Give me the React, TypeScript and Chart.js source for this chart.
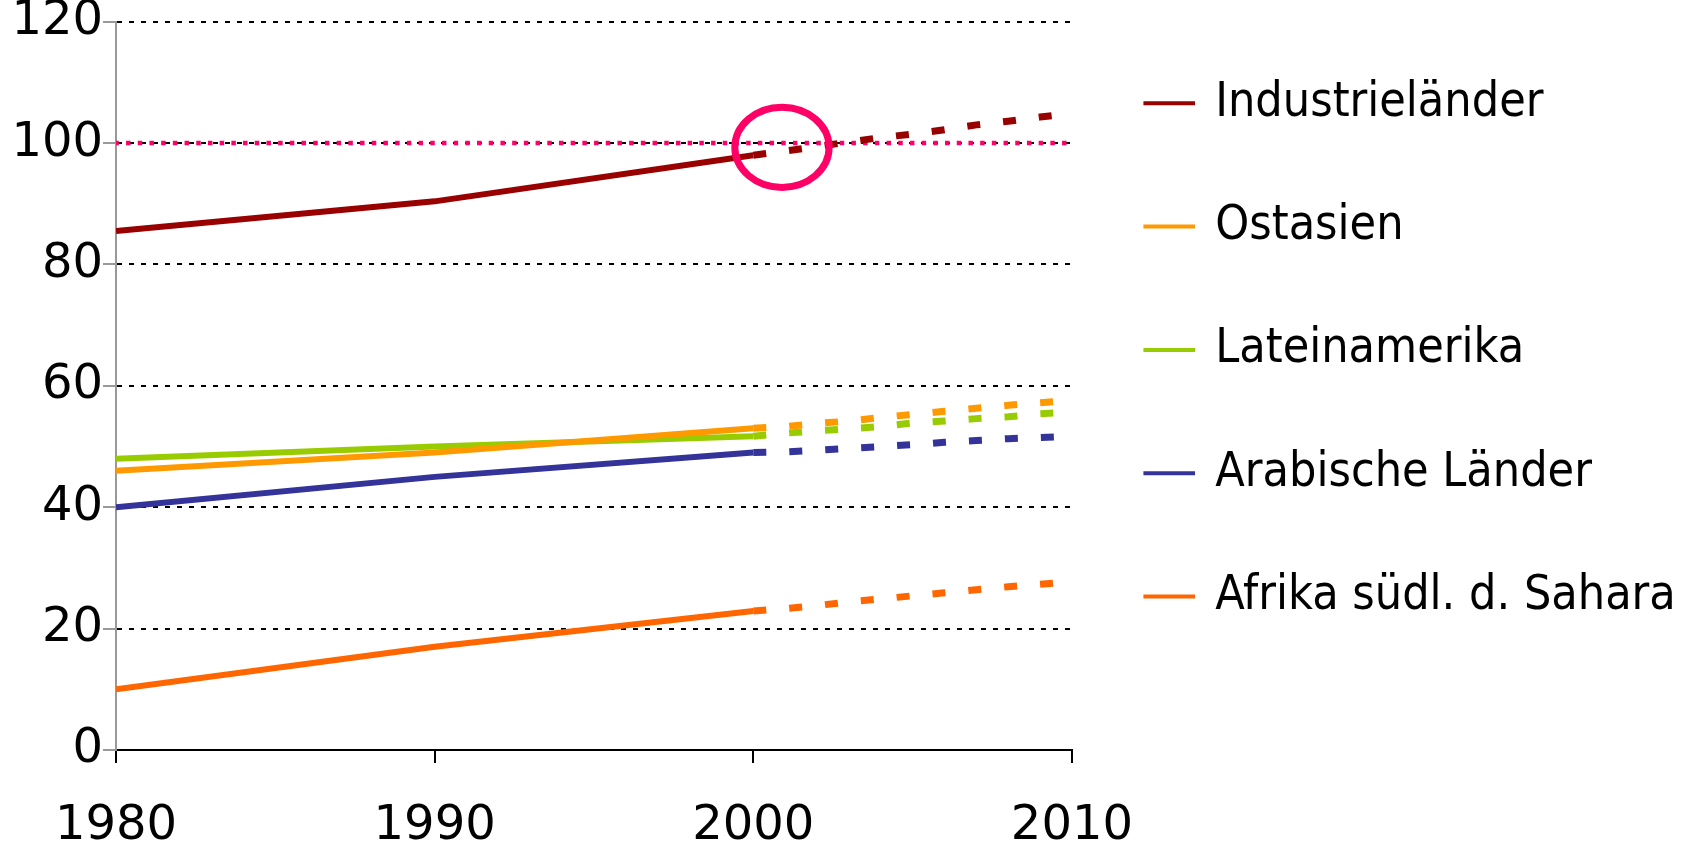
import React, { useEffect, useRef } from "react";
import { Chart, registerables } from "chart.js";

Chart.register(...registerables);

// ---- data ----
const seriesNames = [
  "Industrieländer",
  "Ostasien",
  "Lateinamerika",
  "Arabische Länder",
  "Afrika südl. d. Sahara",
];
const seriesColors = ["#990000", "#FF9900", "#99CC00", "#333399", "#FF6600"];

const solidYears = [1980, 1990, 2000];
const projYears = [2000, 2001, 2002, 2003, 2004, 2005, 2006, 2007, 2008, 2009, 2010];

const industrieSolid = [85.5, 90.4, 98.0];
const ostasienSolid = [46.0, 49.0, 53.0];
const lateinSolid = [48.0, 50.0, 51.7];
const arabSolid = [40.0, 45.0, 49.0];
const afrikaSolid = [10.0, 17.0, 22.9];

const industrieProj = [98.0, 98.7, 99.4, 100.2, 100.9, 101.5, 102.2, 103.0, 103.6, 104.3, 104.9];
const ostasienProj = [53.0, 53.3, 53.8, 54.2, 54.8, 55.3, 55.8, 56.3, 56.8, 57.2, 57.6];
const lateinProj = [51.7, 52.2, 52.6, 52.9, 53.3, 53.9, 54.2, 54.6, 54.9, 55.4, 55.7];
const arabProj = [49.0, 49.1, 49.4, 49.7, 50.0, 50.3, 50.7, 51.0, 51.3, 51.5, 51.7];
const afrikaProj = [22.9, 23.3, 23.8, 24.4, 24.9, 25.4, 25.9, 26.4, 26.9, 27.3, 27.7];

const targetYears = [1980, 2010];
const targetValues = [100, 100];

const xTicks = [1980, 1990, 2000, 2010];
const yTicks = [0, 20, 40, 60, 80, 100, 120];

// highlight ellipse (data units): centre year/value, radius years/value
const circleCenter = [2000.9, 99.3];
const circleRadius = [1.48, 6.6];

const solidSeries = [industrieSolid, ostasienSolid, lateinSolid, arabSolid, afrikaSolid];
const projSeries = [industrieProj, ostasienProj, lateinProj, arabProj, afrikaProj];

const toPoints = (xs: number[], ys: number[]) => xs.map((x, i) => ({ x, y: ys[i] }));

const circlePlugin = {
  id: "highlightCircle",
  afterDatasetsDraw(chart: any) {
    const { ctx, scales } = chart;
    const xs = scales.x;
    const ys = scales.y;
    const cx = xs.getPixelForValue(circleCenter[0]);
    const cy = ys.getPixelForValue(circleCenter[1]);
    const rx = Math.abs(xs.getPixelForValue(circleCenter[0] + circleRadius[0]) - cx);
    const ry = Math.abs(ys.getPixelForValue(circleCenter[1] + circleRadius[1]) - cy);
    ctx.save();
    ctx.beginPath();
    ctx.ellipse(cx, cy, rx, ry, 0, 0, Math.PI * 2);
    ctx.lineWidth = 7;
    ctx.strokeStyle = "#FF0066";
    ctx.stroke();
    ctx.restore();
  },
};

export default function App() {
  const canvasRef = useRef<HTMLCanvasElement | null>(null);

  useEffect(() => {
    document.body.style.margin = "0";
    if (!canvasRef.current) return;
    Chart.defaults.font.family = "'DejaVu Sans', Verdana, sans-serif";

    const datasets: any[] = [];
    seriesNames.forEach((name, i) => {
      datasets.push({
        label: name,
        data: toPoints(solidYears, solidSeries[i]),
        borderColor: seriesColors[i],
        backgroundColor: seriesColors[i],
        borderWidth: 6,
        pointRadius: 0,
        tension: 0,
        order: 1,
      });
      datasets.push({
        label: name + " (Prognose)",
        data: toPoints(projYears, projSeries[i]),
        borderColor: seriesColors[i],
        backgroundColor: seriesColors[i],
        borderWidth: 7,
        borderDash: [13, 23],
        pointRadius: 0,
        tension: 0,
        order: 1,
      });
    });
    datasets.push({
      label: "Ziel",
      data: toPoints(targetYears, targetValues),
      borderColor: "#FF0066",
      borderWidth: 4.5,
      borderDash: [4.5, 7.2],
      borderDashOffset: 1.67,
      pointRadius: 0,
      order: 10,
    });

    const chart = new Chart(canvasRef.current, {
      type: "line",
      data: { datasets },
      plugins: [circlePlugin],
      options: {
        animation: false,
        responsive: true,
        maintainAspectRatio: false,
        layout: { padding: { left: 11.4, right: 12.2, top: 0, bottom: -46.4 } },
        plugins: {
          tooltip: { enabled: false },
          legend: {
            position: "right",
            align: "start",
            maxWidth: 1000,
            title: { display: true, text: "", font: { size: 4, lineHeight: 1 }, padding: 0 },
            labels: {
              font: { size: 48, family: "'DejaVu Sans Condensed', 'DejaVu Sans', sans-serif" },
              color: "#000",
              padding: 75.3,
              usePointStyle: true,
              boxWidth: 44,
              boxHeight: 36.5,
              generateLabels: () =>
                seriesNames.map((name, i) => ({
                  text: name,
                  fillStyle: seriesColors[i],
                  strokeStyle: seriesColors[i],
                  lineWidth: 4,
                  pointStyle: "line",
                  hidden: false,
                  datasetIndex: i * 2,
                  fontColor: "#000",
                })),
            },
          },
        },
        scales: {
          x: {
            type: "linear",
            min: xTicks[0],
            max: xTicks[xTicks.length - 1],
            afterBuildTicks: (scale: any) => {
              scale.ticks = xTicks.map((v) => ({ value: v }));
            },
            ticks: {
              color: "#000",
              font: { size: 48, lineHeight: 0.8 },
              padding: 44,
              autoSkip: false,
              maxRotation: 0,
              callback: (v: any) => String(v),
            },
            grid: {
              drawOnChartArea: false,
              drawTicks: true,
              tickLength: 13,
              color: "#000",
              lineWidth: 2,
            },
            border: { color: "#000", width: 2 },
          },
          y: {
            min: yTicks[0],
            max: yTicks[yTicks.length - 1],
            afterBuildTicks: (scale: any) => {
              scale.ticks = yTicks.map((v) => ({ value: v }));
            },
            ticks: {
              color: "#000",
              font: { size: 48, lineHeight: 0.904 },
              padding: 0,
              callback: (v: any) => String(v),
            },
            grid: {
              color: (c: any) => (c.tick && c.tick.value === 0 ? "rgba(0,0,0,0)" : "#000"),
              lineWidth: 2,
              tickColor: "#999",
              tickLength: 13,
              tickWidth: 2,
            },
            border: { color: "#999", width: 2, dash: [5, 7] },
          },
        },
      },
    } as any);

    return () => chart.destroy();
  }, []);

  return (
    <div style={{ position: "relative", width: "1698px", height: "843px", background: "#fff" }}>
      <canvas ref={canvasRef} />
    </div>
  );
}
